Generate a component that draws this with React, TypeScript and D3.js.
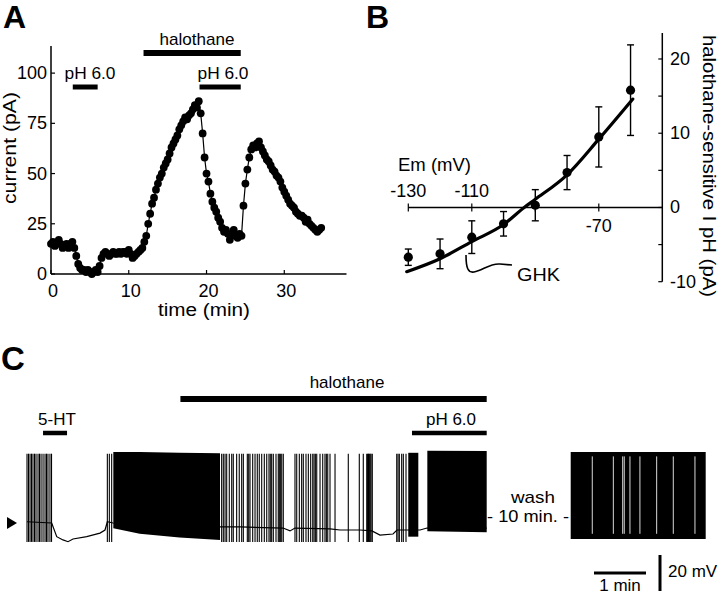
import React from 'react';
import * as d3 from 'd3';

const FONT = '"Liberation Sans", Arial, Helvetica, sans-serif';

// ---------- Panel A: current vs time ----------
const timeMin = [
  0, 0.25, 0.5, 0.75, 1, 1.25, 1.5, 1.75, 2, 2.25, 2.5, 2.75, 3, 3.25, 3.5, 3.75, 4, 4.25, 4.5, 4.75,
  5, 5.25, 5.5, 5.75, 6, 6.25, 6.5, 6.75, 7, 7.25, 7.5, 7.75, 8, 8.25, 8.5, 8.75, 9, 9.25, 9.5, 9.75,
  10, 10.25, 10.5, 10.75, 11, 11.25, 11.5, 11.75, 12, 12.25, 12.5, 12.75, 13, 13.25, 13.5, 13.75, 14, 14.25, 14.5, 14.75,
  15, 15.25, 15.5, 15.75, 16, 16.25, 16.5, 16.75, 17, 17.25, 17.5, 17.75, 18, 18.25, 18.5, 18.75, 19, 19.25, 19.5, 19.75,
  20, 20.25, 20.5, 20.75, 21, 21.25, 21.5, 21.75, 22, 22.25, 22.5, 22.75, 23, 23.25, 23.5, 23.75, 24, 24.25, 24.5, 24.75,
  25, 25.25, 25.5, 25.75, 26, 26.25, 26.5, 26.75, 27, 27.25, 27.5, 27.75, 28, 28.25, 28.5, 28.75, 29, 29.25, 29.5, 29.75,
  30, 30.25, 30.5, 30.75, 31, 31.25, 31.5, 31.75, 32, 32.25, 32.5, 32.75, 33, 33.25, 33.5, 33.75, 34, 34.25, 34.5, 34.75,
];
const currentPA = [
  15, 16, 14, 15, 17, 15, 13, 14, 15, 13, 15, 16, 13, 9, 5, 3, 2, 2, 1, 2,
  1, 0, 1, 2, 1, 4, 8, 10, 11, 10, 9, 10, 11, 10, 10, 11, 10, 11, 11, 10,
  12, 10, 8, 9, 10, 11, 12, 13, 16, 19, 25, 30, 35, 38, 42, 45, 48, 50, 53, 55,
  57, 60, 63, 65, 67, 69, 72, 74, 76, 78, 77, 79, 80, 82, 84, 83, 86, 80, 70, 58,
  50, 46, 40, 36, 33, 31, 28, 26, 23, 21, 22, 20, 17, 20, 22, 19, 18, 20, 19, 34,
  45, 52, 58, 62, 64, 63, 65, 66, 63, 61, 59, 57, 56, 54, 52, 51, 49, 48, 46, 43,
  41, 39, 37, 35, 34, 33, 31, 30, 29, 29, 28, 26, 27, 25, 24, 23, 22, 21, 22, 23,
];
const aYTicks = [0, 25, 50, 75, 100];
const aXTicks = [0, 10, 20, 30];
const aHalothane = [11.9, 24.4];
const aPh1 = [2.8, 6.0];
const aPh2 = [19.1, 24.4];

// ---------- Panel B: I-V ----------
const emMV = [-130, -120, -110, -100, -90, -80, -70, -60];
const iPH = [-6.7, -6.25, -4.0, -2.2, 0.3, 4.7, 9.5, 15.8];
const iErr = [1.1, 2.0, 2.2, 1.65, 2.1, 2.3, 4.05, 6.1];
const ghkEm = [-130.5, -120, -110, -100, -93.5, -90, -80, -70, -59.3];
const ghkI = [-8.65, -6.9, -4.6, -2.3, 0, 1.1, 4.4, 9.2, 14.6];
const bYTicks = [-10, -5, 0, 5, 10, 15, 20];
const bYLabels = [-10, 0, 10, 20];
const bXTicks = [-130, -110, -90, -70];
const bXLabelsAbove = [-130, -110];
const bXLabelsBelow = [-70];

// ---------- Panel C: membrane potential trace ----------
const spikeTimes = [
  0, 1.7, 3.5, 5.2, 6.9, 8.7, 10.4, 12.7, 14.4, 16.2, 18.5, 20.8, 22.5, 24.2, 26.5, 28.3,
  92.7, 95.0, 97.7,
  224.6, 226.5, 228.5, 230.4, 233.4, 236.2, 238.0, 241.9, 244.9, 247.7, 249.6, 254.2, 255.8, 257.3, 260.4,
  263.1, 265.7, 268.0, 270.8, 273.8, 276.6, 279.2, 280.7, 282.3, 284.2, 287.3, 289.9, 291.1, 292.3, 293.9, 295.7,
  309.2, 311.2, 314.2, 316.9, 318.8, 321.9, 324.6, 327.3, 329.7, 331.2, 332.7, 334.3, 338.1, 341.2, 343.8,
  345.4, 347.0, 349.6,
  355.4, 370.7, 383.4, 388.0, 392.0, 393.0, 394.0, 395.0, 396.0, 397.0, 398.4,
  426.6, 428.1, 429.6, 432.3, 434.2, 437.3,
];
const baseT = [0, 28.5, 34.3, 41.5, 47.3, 53.1, 68.9, 84.2, 90, 92.7, 99.2, 222.7, 245.8, 295.4, 303.5, 309.2, 349.6, 361.2, 384.2, 398, 407.3, 422.3, 426.9, 453.5, 461.5, 530.4];
const baseV = [-59.3, -60, -67.6, -69.4, -70.4, -68.9, -67.6, -65.6, -63.9, -59.3, -60, -62.2, -62.2, -62.8, -64.4, -62.8, -63.3, -63.9, -63.9, -64.4, -66.7, -66.1, -63.9, -63.9, -62.8, -62.8];
const burst1T = [99.6, 130, 176, 222.7];
const burst1Low = [-62.9, -66.0, -68.0, -69.4];
const burst1High = [-20.6, -20.6, -21.0, -21.2];
const burst2T = [439.9, 451.5];
const burst2Low = [-67.6, -67.6];
const burst2High = [-21.0, -21.0];
const burst3T = [461.9, 530.4];
const burst3Low = [-64.6, -65.2];
const burst3High = [-19.8, -20.0];
const washT = [0, 155.8];
const washLow = [-68.9, -68.9];
const washHigh = [-20.5, -20.5];
const washGapT = [24.9, 49.2, 60.0, 61.8, 68.4, 79.9, 99.2, 118.4, 143.4];
const spikePeak = -21.5;
const spikeTrough = -70.5;
const cHalothane = [177, 530.4];
const c5HT = [18.5, 46.2];
const cPh = [444.2, 530.4];

function T(props: any) {
  const { x, y, size = 17, anchor = 'start', children, weight, len, transform } = props;
  const extra: any = {};
  if (len) {
    extra.textLength = len;
    extra.lengthAdjust = 'spacingAndGlyphs';
  }
  return (
    <text x={x} y={y} fontSize={size} textAnchor={anchor} fontWeight={weight} fill="#000" transform={transform} {...extra}>
      {children}
    </text>
  );
}

export default function App() {
  // Panel A scales
  const xA = d3.scaleLinear().domain([0, 38]).range([51, 346.5]);
  const yA = d3.scaleLinear().domain([0, 113.5]).range([274, 46]);
  const lineA = d3.line<number>().x((_, i) => xA(timeMin[i])).y((d) => yA(d));

  // Panel B scales
  const xB = d3.scaleLinear().domain([-130, -50]).range([408.3, 662.3]);
  const yB = d3.scaleLinear().domain([-10, 23.5]).range([281.7, 33]);
  const ghkLine = d3.line<number>().x((_, i) => xB(ghkEm[i])).y((d) => yB(d)).curve(d3.curveMonotoneX);

  // Panel C scales
  const xC = d3.scaleLinear().domain([0, 530.4]).range([27, 486.7]);
  const yC = d3.scaleLinear().domain([-75, -15]).range([550, 442]);
  const xW = d3.scaleLinear().domain([0, 155.8]).range([570.7, 705.7]);
  const baseLine = d3.line<number>().x((_, i) => xC(baseT[i])).y((d) => yC(d));
  const bandArea = (ts: number[], lows: number[], highs: number[], xs: any) =>
    d3.area<number>().x((_, i) => xs(ts[i])).y0((_, i) => yC(lows[i])).y1((_, i) => yC(highs[i]))(ts) || '';

  const ghkLeader = d3.path();
  ghkLeader.moveTo(466, 255);
  ghkLeader.bezierCurveTo(466, 268, 468, 273, 474, 272);
  ghkLeader.bezierCurveTo(482, 271, 490, 263, 500, 264);
  ghkLeader.lineTo(512, 265);

  return (
    <svg width={720} height={594} style={{ position: 'absolute', left: 0, top: 0, background: '#fff' }} fontFamily={FONT}>
      <rect x={0} y={0} width={720} height={594} fill="#fff" />
      {/* ================= Panel A ================= */}
      <T x={3} y={28} size={32} weight="bold">A</T>
      <line x1={xA(aHalothane[0])} x2={xA(aHalothane[1])} y1={53} y2={53} stroke="#000" strokeWidth={6} />
      <line x1={xA(aPh1[0])} x2={xA(aPh1[1])} y1={87} y2={87} stroke="#000" strokeWidth={5} />
      <line x1={xA(aPh2[0])} x2={xA(aPh2[1])} y1={87} y2={87} stroke="#000" strokeWidth={5} />
      <T x={197} y={45} anchor="middle" len={75}>halothane</T>
      <T x={90} y={79} anchor="middle" len={51}>pH 6.0</T>
      <T x={223} y={79} anchor="middle" len={51}>pH 6.0</T>
      <line x1={xA(0)} x2={xA(0)} y1={yA(113.5)} y2={yA(0)} stroke="#000" strokeWidth={1.5} />
      <line x1={xA(0)} x2={xA(38)} y1={yA(0)} y2={yA(0)} stroke="#000" strokeWidth={1.5} />
      {aYTicks.map((v) => (
        <g key={'ay' + v}>
          <line x1={xA(0)} x2={xA(0) + 4} y1={yA(v)} y2={yA(v)} stroke="#000" strokeWidth={1.2} />
          <T x={47} y={yA(v) + 6} anchor="end" size={18}>{v}</T>
        </g>
      ))}
      {aXTicks.map((v) => (
        <g key={'ax' + v}>
          <line x1={xA(v)} x2={xA(v)} y1={yA(0)} y2={yA(0) - 4} stroke="#000" strokeWidth={1.2} />
          <T x={xA(v) + 2} y={297} anchor="middle" size={18}>{v}</T>
        </g>
      ))}
      <T x={204} y={316} anchor="middle" size={18} len={92}>time (min)</T>
      <T x={0} y={0} anchor="middle" size={18} len={112} transform={`translate(16,148) rotate(-90)`}>current (pA)</T>
      <path d={lineA(currentPA) || ''} fill="none" stroke="#000" strokeWidth={1.2} />
      {currentPA.map((v, i) => (
        <circle key={'pa' + i} cx={xA(timeMin[i])} cy={yA(v)} r={3.9} fill="#000" />
      ))}

      {/* ================= Panel B ================= */}
      <T x={366} y={28} size={32} weight="bold">B</T>
      <line x1={xB(-130)} x2={xB(-50)} y1={yB(0)} y2={yB(0)} stroke="#000" strokeWidth={1.5} />
      <line x1={xB(-50)} x2={xB(-50)} y1={yB(23.5)} y2={yB(-10)} stroke="#000" strokeWidth={1.5} />
      {bYTicks.map((v) => (
        <line key={'byt' + v} x1={xB(-50) - 4} x2={xB(-50)} y1={yB(v)} y2={yB(v)} stroke="#000" strokeWidth={1.2} />
      ))}
      {bYLabels.map((v) => (
        <T key={'byl' + v} x={670} y={yB(v) + 6} size={18}>{v}</T>
      ))}
      {bXTicks.map((v) => (
        <line key={'bxt' + v} x1={xB(v)} x2={xB(v)} y1={yB(0) - 4} y2={yB(0) + 4} stroke="#000" strokeWidth={1.2} />
      ))}
      {bXLabelsAbove.map((v) => (
        <T key={'bxa' + v} x={xB(v)} y={197} anchor="middle" size={18}>{v}</T>
      ))}
      {bXLabelsBelow.map((v) => (
        <T key={'bxb' + v} x={xB(v)} y={232} anchor="middle" size={18}>{v}</T>
      ))}
      <T x={398} y={171} size={18} len={73}>Em (mV)</T>
      <T x={0} y={0} anchor="middle" size={17.5} len={262} transform={`translate(703,166) rotate(90)`}>halothane-sensitive I pH (pA)</T>
      <path d={ghkLine(ghkI) || ''} fill="none" stroke="#000" strokeWidth={3.2} strokeLinecap="round" />
      {iPH.map((v, i) => (
        <g key={'bp' + i}>
          <line x1={xB(emMV[i])} x2={xB(emMV[i])} y1={yB(v - iErr[i])} y2={yB(v + iErr[i])} stroke="#000" strokeWidth={1.4} />
          <line x1={xB(emMV[i]) - 3.5} x2={xB(emMV[i]) + 3.5} y1={yB(v - iErr[i])} y2={yB(v - iErr[i])} stroke="#000" strokeWidth={1.4} />
          <line x1={xB(emMV[i]) - 3.5} x2={xB(emMV[i]) + 3.5} y1={yB(v + iErr[i])} y2={yB(v + iErr[i])} stroke="#000" strokeWidth={1.4} />
          <circle cx={xB(emMV[i])} cy={yB(v)} r={4.6} fill="#000" />
        </g>
      ))}
      <path d={ghkLeader.toString()} fill="none" stroke="#000" strokeWidth={1.6} />
      <T x={517} y={281} size={18} len={43}>GHK</T>

      {/* ================= Panel C ================= */}
      <T x={1} y={370} size={33} weight="bold">C</T>
      <line x1={xC(cHalothane[0])} x2={xC(cHalothane[1])} y1={399} y2={399} stroke="#000" strokeWidth={6} />
      <line x1={xC(c5HT[0])} x2={xC(c5HT[1])} y1={433} y2={433} stroke="#000" strokeWidth={4.5} />
      <line x1={xC(cPh[0])} x2={xC(cPh[1])} y1={433} y2={433} stroke="#000" strokeWidth={4.5} />
      <T x={347} y={388} anchor="middle">halothane</T>
      <T x={57} y={425} anchor="middle">5-HT</T>
      <T x={451} y={425} anchor="middle">pH 6.0</T>
      <path d={`M7,${yC(-60) - 6} L17,${yC(-60)} L7,${yC(-60) + 6} Z`} fill="#000" />
      <path d={baseLine(baseV) || ''} fill="none" stroke="#000" strokeWidth={1.2} />
      <path d={bandArea(burst1T, burst1Low, burst1High, xC)} fill="#000" />
      <path d={bandArea(burst2T, burst2Low, burst2High, xC)} fill="#000" />
      <path d={bandArea(burst3T, burst3Low, burst3High, xC)} fill="#000" />
      {spikeTimes.map((t, i) => (
        <line key={'sp' + i} x1={xC(t)} x2={xC(t)} y1={yC(spikeTrough)} y2={yC(spikePeak)} stroke="#000" strokeWidth={1.1} />
      ))}
      <path d={bandArea(washT, washLow, washHigh, xW)} fill="#000" />
      {washGapT.map((t, i) => (
        <line key={'wg' + i} x1={xW(t)} x2={xW(t)} y1={yC(-23)} y2={yC(-66)} stroke="#fff" strokeWidth={1} opacity={0.85} />
      ))}
      <T x={533} y={503} anchor="middle" len={44}>wash</T>
      <T x={528} y={522} anchor="middle" len={82}>- 10 min. -</T>
      <line x1={594} x2={594 + (xC(60) - xC(0))} y1={573} y2={573} stroke="#000" strokeWidth={3} />
      <line x1={660} x2={660} y1={591} y2={591 - (yC(-40) - yC(-20))} stroke="#000" strokeWidth={3} />
      <T x={620} y={591} anchor="middle">1 min</T>
      <T x={668} y={577}>20 mV</T>
    </svg>
  );
}
